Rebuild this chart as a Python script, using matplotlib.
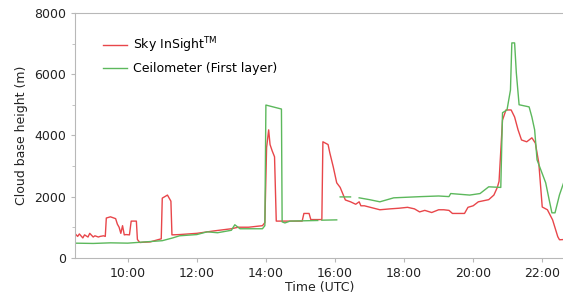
import numpy as np
import matplotlib
matplotlib.use("Agg")
import matplotlib.pyplot as plt

# hours (UTC) and cloud base height (m)
sky_hours = [8.45, 8.55, 8.6, 8.7, 8.75, 8.85, 8.9, 9.0, 9.05, 9.15, 9.2, 9.3, 9.35,
             9.38, 9.5, 9.65, 9.7, 9.75, 9.8, 9.85, 9.9, 9.95, 10.05, 10.1, 10.12,
             10.25, 10.28, 10.35, 10.45, 10.65, 10.9, 10.97, 11.0, 11.15, 11.25,
             11.28, 11.5, 12.0, 12.5, 13.0, 13.2, 13.5, 13.9, 13.97, 14.02, 14.08,
             14.12, 14.18, 14.25, 14.3, 14.6, 15.05, 15.1, 15.25, 15.3, 15.62,
             15.65, 15.8, 15.85, 15.95, 16.05, 16.15, 16.3, 16.45, 16.6, 16.7,
             16.75, 16.85, 17.3, 17.6, 17.85, 18.1, 18.3, 18.45, 18.6, 18.8, 19.0,
             19.15, 19.3, 19.4, 19.75, 19.85, 20.0, 20.15, 20.45, 20.6, 20.7, 20.75,
             20.8, 20.85, 20.95, 21.1, 21.2, 21.3, 21.4, 21.55, 21.7, 21.8, 21.9,
             22.0, 22.15, 22.3, 22.45, 22.5, 22.65]
sky_height = [820, 700, 780, 650, 750, 680, 800, 680, 720, 680, 700, 720, 700,
              1300, 1340, 1280, 1100, 1000, 800, 1050, 750, 760, 750, 1200, 1200,
              1200, 600, 500, 510, 520, 600, 620, 1950, 2050, 1850, 750, 760, 800,
              880, 950, 1000, 1000, 1050, 1150, 3600, 4180, 3700, 3500, 3300, 1200,
              1200, 1200, 1450, 1450, 1250, 1250, 3790, 3700, 3430, 2970, 2450, 2300,
              1890, 1830, 1750, 1830, 1700, 1700, 1570, 1600, 1620, 1650, 1600, 1500,
              1550, 1480, 1570, 1570, 1550, 1450, 1450, 1650, 1700, 1830, 1900, 2050,
              2300, 2500, 3500, 4500, 4830, 4830, 4600, 4180, 3850, 3790, 3920, 3750,
              3100, 1660, 1570, 1240, 690, 590, 600]

ceil_hours = [8.45, 9.0, 9.5, 10.0, 10.5, 11.0, 11.3, 11.5, 12.0, 12.3, 12.6, 13.0,
              13.1, 13.25, 13.5, 13.9, 13.97, 14.0, 14.45, 14.47, 14.55, 14.7,
              15.5, 15.55, 15.62, 16.05, 16.1, 16.15, 16.45, 16.5, 16.65, 16.7,
              17.0, 17.3, 17.7, 18.5, 19.0, 19.3, 19.35, 19.9, 20.2, 20.45, 20.8,
              20.85, 20.98, 21.08, 21.12, 21.2, 21.25, 21.33, 21.62, 21.7, 21.78,
              21.85, 22.1, 22.2, 22.28, 22.37, 22.5, 22.65]
ceil_height = [480, 470, 490, 480, 520, 560, 650, 720, 760, 850, 820, 900,
               1080, 950, 950, 950, 1050, 4990, 4860, 1175, 1140, 1200,
               1220, np.nan, 1230, 1240, np.nan, 1990, 1990, np.nan, np.nan, 1960,
               1900, 1830, 1960, 2000, 2020, 2000, 2100, 2050, 2100, 2320, 2300,
               4740, 4830, 5480, 7020, 7020, 6040, 5000, 4930, 4600, 4180,
               3200, 2450, 1900, 1470, 1470, 2060, 2550]

red = "#e8464a"
green = "#5cb85c"
grey = "#b8b8b8"

fig = plt.figure(figsize=(5.63, 2.93), dpi=100)
ax = fig.add_axes([0.133, 0.12, 0.87, 0.836])

ax.plot(sky_hours, sky_height, color=red, lw=1.0, label="Sky InSight$^{\\mathrm{TM}}$")
ax.plot(ceil_hours, ceil_height, color=green, lw=1.0, label="Ceilometer (First layer)")

ax.set_xlim(8.47, 22.65)
ax.set_ylim(0, 8000)
ax.set_yticks([0, 2000, 4000, 6000, 8000])
ax.set_yticks(range(1000, 8000, 2000), minor=True)
ax.set_xticks([10, 12, 14, 16, 18, 20, 22])
ax.set_xticklabels(["10:00", "12:00", "14:00", "16:00", "18:00", "20:00", "22:00"])

for s in ["left", "bottom", "top"]:
    ax.spines[s].set_color(grey)
ax.spines["right"].set_visible(False)
ax.tick_params(colors=grey, labelcolor="#222222", labelsize=9, length=3)
ax.tick_params(which="minor", colors=grey, length=2)

ax.set_xlabel("Time (UTC)", fontsize=9, labelpad=1, color="#222222")
ax.set_ylabel("Cloud base height (m)", fontsize=9, color="#222222")

ax.legend(loc="upper left", bbox_to_anchor=(0.035, 0.955), frameon=False,
          fontsize=9, handlelength=1.9, handletextpad=0.5, labelspacing=0.6)

fig.savefig("out.png", dpi=100)
